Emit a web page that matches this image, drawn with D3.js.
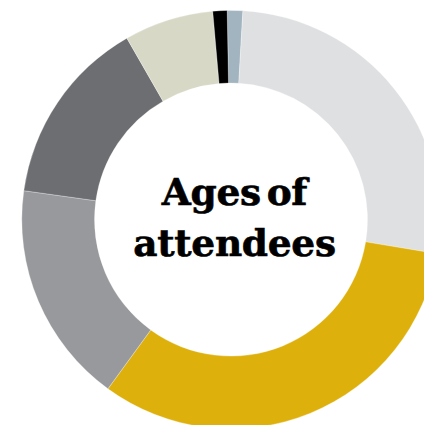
<!DOCTYPE html>
<html>
<head>
<meta charset="utf-8">
<script src="https://cdn.jsdelivr.net/npm/d3@7"></script>
<style>
html,body{margin:0;padding:0;background:#fff;overflow:hidden;}
svg{display:block;}
</style>
</head>
<body>
<svg id="chart" width="424" height="425"></svg>
<script>
const categories = ["Under 18", "18–24", "25–34", "35–44", "45–54", "55–64", "65+"];
const values = [1.2, 26.7, 32.4, 17.2, 14.5, 6.9, 1.1];
const colors = ["#a2b4c0", "#dfe0e2", "#deb00c", "#98999c", "#6d6e71", "#d8d8c6", "#000000"];
const titleLines = ["Ages of", "attendees"];

const svg = d3.select("#chart");
const cx = 231, cy = 219.6, outerR = 209.2, innerR = 136.5;
const g = svg.append("g").attr("transform", `translate(${cx},${cy})`);

const data = categories.map((c, i) => ({category: c, value: values[i], color: colors[i]}));
const start = -1.05 * Math.PI / 180;
const pie = d3.pie().value(d => d.value).sort(null).startAngle(start).endAngle(start + 2 * Math.PI);
const arc = d3.arc().innerRadius(innerR).outerRadius(outerR);

g.selectAll("path").data(pie(data)).join("path")
  .attr("d", arc)
  .attr("fill", d => d.data.color)
  .attr("stroke", "#fff")
  .attr("stroke-width", 0.3);

const t = g.append("text")
  .attr("text-anchor", "middle")
  .attr("font-family", "'DejaVu Serif', serif")
  .attr("font-weight", "bold")
  .attr("font-size", 37.5)
  .attr("word-spacing", -7)
  .attr("letter-spacing", -0.3)
  .attr("stroke", "#000")
  .attr("stroke-width", 0.6)
  .attr("fill", "#000");
t.selectAll("tspan").data(titleLines).join("tspan")
  .attr("x", 3.5)
  .attr("y", (d, i) => -15 + i * 51)
  .text(d => d);
</script>
</body>
</html>
